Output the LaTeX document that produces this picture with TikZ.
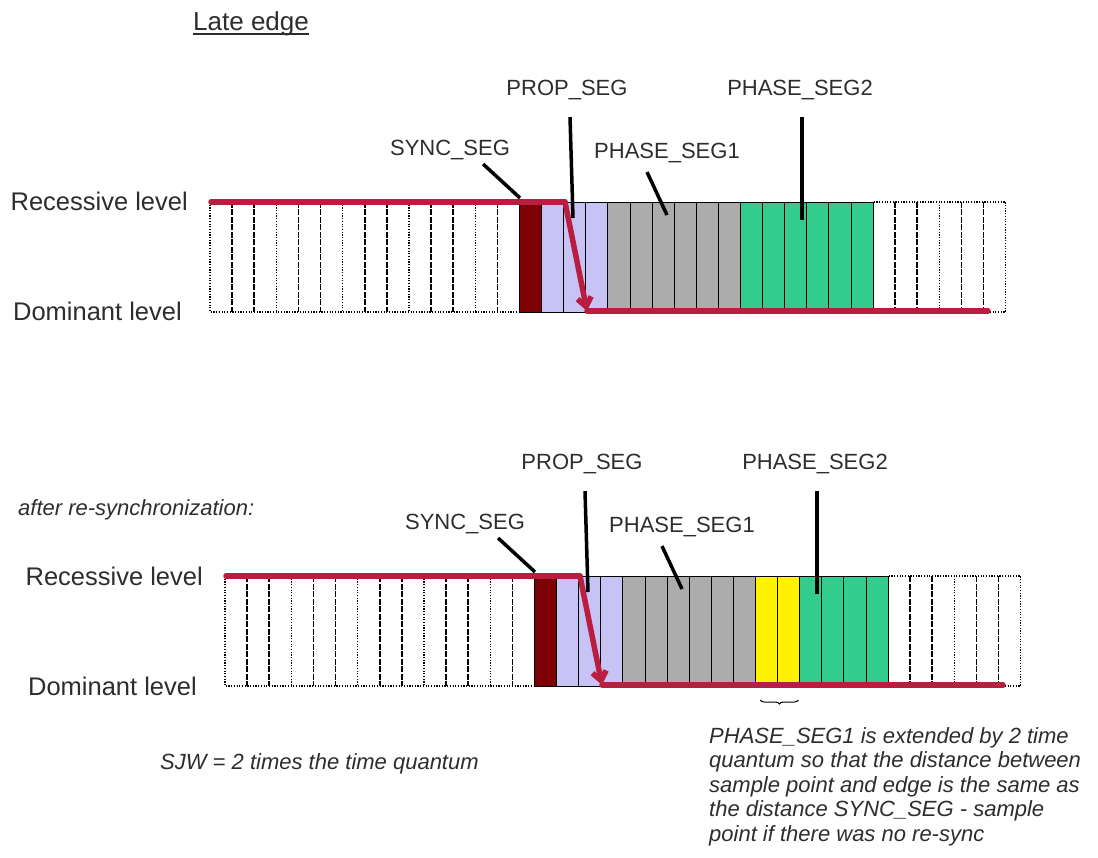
\documentclass[tikz,border=0pt]{standalone}
\usepackage{fontspec}
\setmainfont{Liberation Sans}
\usetikzlibrary{positioning,arrows.meta,decorations.pathreplacing}

\definecolor{sigred}{RGB}{185,30,65}
\definecolor{syncred}{RGB}{125,0,5}
\definecolor{proplav}{RGB}{200,195,245}
\definecolor{phgray}{RGB}{172,172,172}
\definecolor{phgreen}{RGB}{50,204,140}
\definecolor{txtgray}{RGB}{45,45,45}

\newcommand{\cw}{22.1}

\begin{document}
\begin{tikzpicture}[x=1pt, y=-1pt,
  seglabel/.style={font=\fontsize{22}{24}\selectfont, text=txtgray, inner sep=1pt},
  levellabel/.style={font=\fontsize{25.5}{27}\selectfont, text=txtgray, anchor=base east, inner sep=0pt},
  notelabel/.style={font=\itshape\fontsize{22}{24.5}\selectfont, text=txtgray, inner sep=0pt, align=left},
  pointer/.style={line width=3.5pt},
  signal/.style={line width=5.5pt, sigred, line cap=round},
  idledash/.style={line width=1.6pt, dash pattern=on 6pt off 1.5pt},
  idledot/.style={line width=1.3pt, dash pattern=on 1.2pt off 1.5pt},
  bitline/.style={line width=0.8pt}]
\useasboundingbox (0,0) rectangle (1098,858);

% heading
\node[font=\fontsize{26}{28}\selectfont, text=txtgray, anchor=base west, inner sep=0pt] (title) at (193,31) {Late edge};
\draw[line width=1.6pt, txtgray] ([yshift=-3pt]title.base west) -- ([yshift=-3pt]title.base east);

% the two bit timings: a = late edge, b = after re-sync
\foreach \nm/\xo/\yo/\ny in {a/210/202/0, b/225/576/2} {
\begin{scope}[shift={(\xo,\yo)}]
  % idle bits
  \draw[idledot] (0,0) rectangle (14*\cw,110);
  \draw[idledot] (30*\cw,0) rectangle (36*\cw,110);
  \foreach \i in {1,...,13} {
    \pgfmathtruncatemacro{\k}{mod(\i,3)}
    \ifnum\k=0 \draw[idledot] (\i*\cw,0) -- (\i*\cw,110); \else \draw[idledash] (\i*\cw,0) -- (\i*\cw,110); \fi
  }
  \foreach \i in {31,...,35} {
    \pgfmathtruncatemacro{\k}{mod(\i,3)}
    \ifnum\k=0 \draw[idledot] (\i*\cw,0) -- (\i*\cw,110); \else \draw[idledash] (\i*\cw,0) -- (\i*\cw,110); \fi
  }
  % segments
  \fill[syncred] (14*\cw,0) rectangle (15*\cw,110);
  \fill[proplav] (15*\cw,0) rectangle (18*\cw,110);
  \fill[phgray] (18*\cw,0) rectangle (24*\cw,110);
  \fill[phgreen] (24*\cw,0) rectangle (30*\cw,110);
  \fill[yellow] (24*\cw,0) rectangle ({(24+\ny)*\cw},110);
  \foreach \i in {15,...,29} \draw[bitline] (\i*\cw,0) -- (\i*\cw,110);
  \draw[bitline] (14*\cw,0) rectangle (30*\cw,110);
  \coordinate (yel\nm) at (24*\cw,110);
  % levels
  \node[levellabel] (rec\nm) at (-22,9) {Recessive level};
  \node[levellabel] (dom\nm) at (-28,119) {Dominant level};
  % signal with the late edge
  \coordinate (hi\nm) at (1,0);
  \coordinate (edge\nm) at (355,0);
  \coordinate (lo\nm) at (377,109);
  \coordinate (end\nm) at (778,109);
  \draw[signal] (hi\nm) -- (edge\nm);
  \draw[signal] (lo\nm) -- (end\nm);
  \draw[signal, -{Straight Barb[length=9pt,width=14pt]}] (edge\nm) -- (lo\nm);
  % segment names
  \node[seglabel] (sync\nm) at (240,-52) {SYNC\_SEG};
  \node[seglabel] (prop\nm) at (357,-112) {PROP\_SEG};
  \node[seglabel] (phone\nm) at (457,-49) {PHASE\_SEG1};
  \node[seglabel] (phtwo\nm) at (590,-112) {PHASE\_SEG2};
  \coordinate (psync\nm) at (310,-4);
  \coordinate (pprop\nm) at (363,16);
  \coordinate (pphone\nm) at (457,13);
  \coordinate (pphtwo\nm) at (592,18);
  \draw[pointer] ([xshift=-28pt, yshift=-3pt]sync\nm.south east) -- (psync\nm);
  \draw[pointer] ([xshift=3pt, yshift=-16pt]prop\nm.south) -- (pprop\nm);
  \draw[pointer] ([xshift=-20pt, yshift=-8pt]phone\nm.south) -- (pphone\nm);
  \draw[pointer] ([xshift=2pt, yshift=-16pt]phtwo\nm.south) -- (pphtwo\nm);
\end{scope}
}

\node[font=\itshape\fontsize{22}{24}\selectfont, text=txtgray, anchor=west, inner sep=0pt] (resync) at (18,510) {after re-synchronization:};
\draw[line width=1pt, decorate, decoration={brace, mirror, amplitude=4pt}] ([shift={(5,14)}]yelb) -- ([shift={(43,14)}]yelb);

% notes
\node[notelabel, anchor=west] (sjw) at (160,764) {SJW = 2 times the time quantum};
\node[notelabel, anchor=north west] (note) at (709,727) {PHASE\_SEG1 is extended by 2 time\\quantum so that the distance between\\sample point and edge is the same as\\the distance SYNC\_SEG - sample\\point if there was no re-sync};
\end{tikzpicture}
\end{document}
